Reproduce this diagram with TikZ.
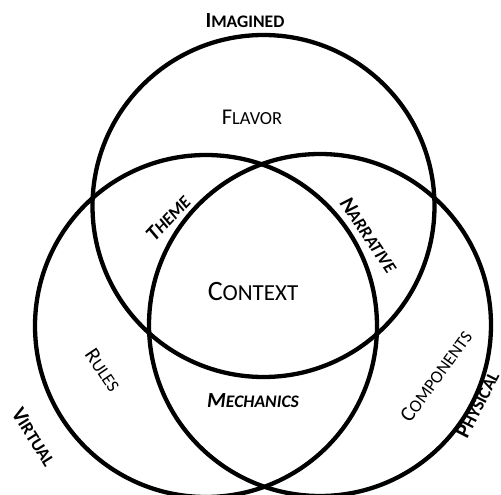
\documentclass[tikz,border=0pt]{standalone}
\usepackage{fontspec}
\setmainfont{Carlito}
\newcommand\SCtext[3]{\fontsize{#1pt}{#1pt}\selectfont #2\fontsize{\fpeval{#1*0.82}pt}{#1pt}\selectfont #3}
\tikzset{
  ring/.style={draw=black, line width=4.3pt},
  lbl/.style={inner sep=0pt, anchor=center, text=black},
}
\begin{document}
\begin{tikzpicture}[x=1pt,y=-1pt]
\path[use as bounding box, clip] (0,0) rectangle (501,495);
\fill[white] (0,0) rectangle (501,495);
\coordinate (cI) at (263.5,206);
\coordinate (cV) at (206,326);
\coordinate (cP) at (320,325);
\draw[ring] (cI) circle[radius=171];
\draw[ring] (cV) circle[radius=171];
\draw[ring] (cP) circle[radius=171];
\node[lbl] (imagined) at (245,21) {\bfseries\SCtext{21.5}{I}{MAGINED}};
\node[lbl] (flavor) at (252,117) {\SCtext{22.5}{F}{LAVOR}};
\node[lbl] (context) at (253,292) {\SCtext{28}{C}{ONTEXT}};
\node[lbl, rotate=47] (theme) at (168,218) {\bfseries\itshape\SCtext{21.5}{T}{HEME}};
\node[lbl, rotate=-56] (narrative) at (369,235) {\bfseries\itshape\SCtext{21.5}{N}{ARRATIVE}};
\node[lbl, rotate=-56] (rules) at (103,370) {\SCtext{21.5}{R}{ULES}};
\node[lbl] (mechanics) at (253,401) {\bfseries\itshape\SCtext{21.5}{M}{ECHANICS}};
\node[lbl, rotate=54] (components) at (436,376) {\SCtext{21.5}{C}{OMPONENTS}};
\node[lbl, rotate=-58] (virtual) at (34,437) {\bfseries\SCtext{21.5}{V}{IRTUAL}};
\node[lbl, rotate=63, anchor=base west] (physical) at (467,440) {\bfseries\SCtext{21.5}{P}{HYSICAL}};
\end{tikzpicture}
\end{document}
